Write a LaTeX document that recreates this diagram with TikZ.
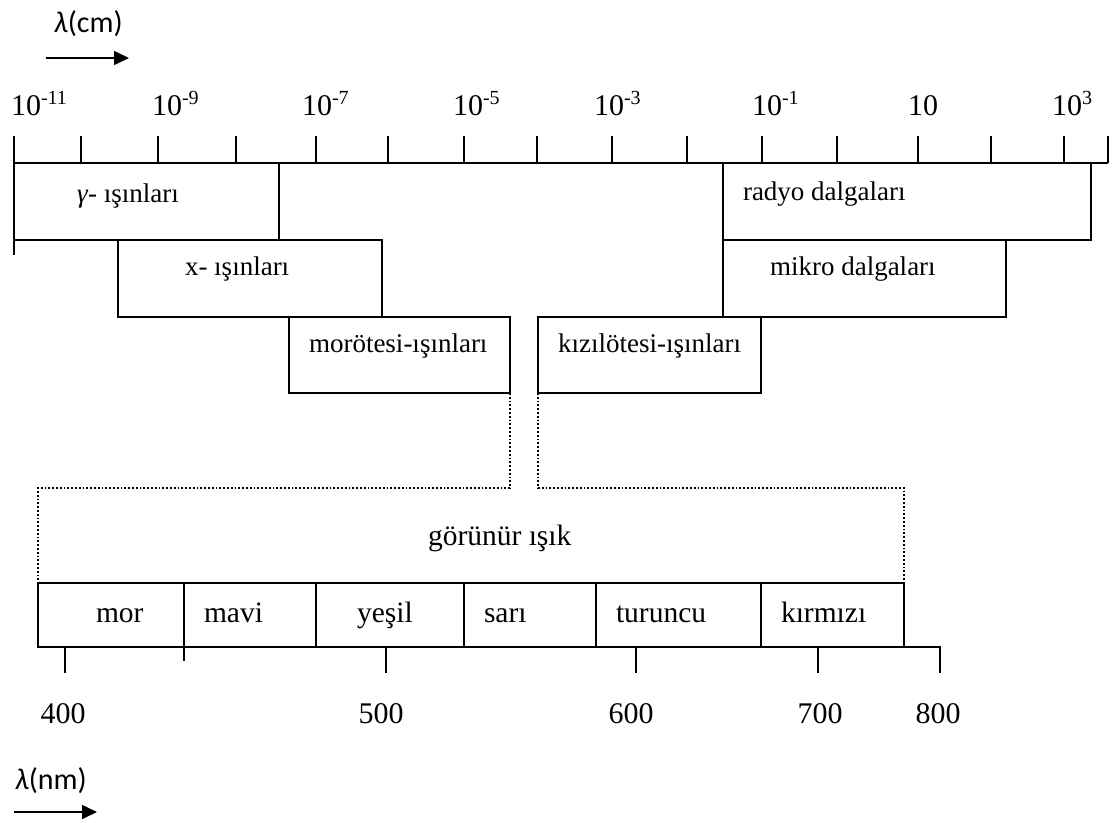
\documentclass[tikz,border=0pt]{standalone}
\usepackage{fontspec}
\setmainfont{Liberation Serif}
\newfontfamily\labelsans{Carlito}
\usetikzlibrary{arrows.meta}
% power of ten with a raised exponent
\newcommand{\tenpow}[1]{10\raisebox{0.36em}{\fontsize{20}{20}\selectfont #1}}
\begin{document}
\begin{tikzpicture}[x=1pt,y=-1pt,
  every node/.style={inner sep=0pt, outer sep=0pt},
  txt/.style={anchor=base west, font=\fontsize{27}{32}\selectfont},
  bigtxt/.style={anchor=base west, font=\fontsize{29.5}{34}\selectfont},
  num/.style={anchor=base, font=\fontsize{30}{34}\selectfont},
  band/.style={draw, line width=1.6pt, anchor=north west},
  tick/.style={line width=1.6pt},
  axisline/.style={line width=2.6pt},
  dotline/.style={line width=1.8pt, dotted},
  dirarrow/.style={line width=1.6pt, -{Triangle[length=15pt,width=14pt]}},
  unitlabel/.style={anchor=base west, font=\labelsans\fontsize{30}{34}\selectfont}]
\useasboundingbox (0,0) rectangle (1113,822);

% wavelength direction, cm scale
\node[unitlabel] (lcm) at (54,32) {\textit{λ}(cm)};
\coordinate (acmA) at (46,58);
\coordinate (acmB) at (129,58);
\draw[dirarrow] (acmA) -- (acmB);

% decade labels
\node[num, anchor=base west] (d11) at (11,115) {\tenpow{-11}};
\node[num, anchor=base west] (d9)  at (152,115) {\tenpow{-9}};
\node[num, anchor=base west] (d7)  at (302,115) {\tenpow{-7}};
\node[num, anchor=base west] (d5)  at (453,115) {\tenpow{-5}};
\node[num, anchor=base west] (d3)  at (594,115) {\tenpow{-3}};
\node[num, anchor=base west] (d1)  at (752,115) {\tenpow{-1}};
\node[num, anchor=base west] (d10) at (908,115) {10};
\node[num, anchor=base west] (dp3) at (1052,115) {\tenpow{3}};

% main axis with ticks
\coordinate (axL) at (14,163);
\coordinate (axR) at (1108,163);
\draw[axisline] (axL) -- (axR);
\foreach \t in {81,158,236,316,388,464,537,612,687,762,837,918,991,1064,1108}
  \draw[tick] (\t,136) -- (\t,163);
\draw[tick] (14,136) -- (14,255);

% spectral bands
\node[band, minimum width=265pt, minimum height=77pt] (gam) at (14,163) {};
\node[txt] (gamT) at (77,202) {\textit{γ}- ışınları};
\node[band, minimum width=264pt, minimum height=77pt] (xr) at (118,240) {};
\node[txt] (xrT) at (185,275) {x- ışınları};
\node[band, minimum width=221pt, minimum height=76pt] (uv) at (289,317) {};
\node[txt] (uvT) at (309,352) {morötesi-ışınları};
\node[band, minimum width=223pt, minimum height=76pt] (ir) at (538,317) {};
\node[txt] (irT) at (558,352) {kızılötesi-ışınları};
\node[band, minimum width=283pt, minimum height=77pt] (mw) at (723,240) {};
\node[txt] (mwT) at (770,275) {mikro dalgaları};
\node[band, minimum width=368pt, minimum height=77pt] (rd) at (723,163) {};
\node[txt] (rdT) at (743,200) {radyo dalgaları};

% visible colours
\node[band, minimum width=146pt, minimum height=64pt] (mor) at (38,583) {};
\node[bigtxt] (morT) at (96,622) {mor};
\node[band, minimum width=132pt, minimum height=64pt] (mav) at (184,583) {};
\node[bigtxt] (mavT) at (204,622) {mavi};
\node[band, minimum width=148pt, minimum height=64pt] (yes) at (316,583) {};
\node[bigtxt] (yesT) at (357,622) {yeşil};
\node[band, minimum width=132pt, minimum height=64pt] (sar) at (464,583) {};
\node[bigtxt] (sarT) at (484,622) {sarı};
\node[band, minimum width=165pt, minimum height=64pt] (tur) at (596,583) {};
\node[bigtxt] (turT) at (616,622) {turuncu};
\node[band, minimum width=143pt, minimum height=64pt] (kir) at (761,583) {};
\node[bigtxt] (kirT) at (781,622) {kırmızı};

% zoom-in onto the visible range
\draw[dotline] (uv.south east) -- ++(0,95) -| (mor.north west);
\draw[dotline] (ir.south west) -- ++(0,95) -| (kir.north east);
\node[bigtxt] (vis) at (428,545) {görünür ışık};

% nm scale
\coordinate (nmEnd) at (940,647);
\draw[tick] (kir.south east) -- (nmEnd) -- (940,673);
\foreach \t in {65,386,636,818}
  \draw[tick] (\t,647) -- (\t,673);
\draw[tick] (184,647) -- (184,661);
\node[num] (n4) at (63,723) {400};
\node[num] (n5) at (381,723) {500};
\node[num] (n6) at (631,723) {600};
\node[num] (n7) at (820,723) {700};
\node[num] (n8) at (938,723) {800};

% wavelength direction, nm scale
\node[unitlabel] (lnm) at (15,789) {\textit{λ}(nm)};
\coordinate (anmA) at (14,812);
\coordinate (anmB) at (97,812);
\draw[dirarrow] (anmA) -- (anmB);
\end{tikzpicture}
\end{document}
